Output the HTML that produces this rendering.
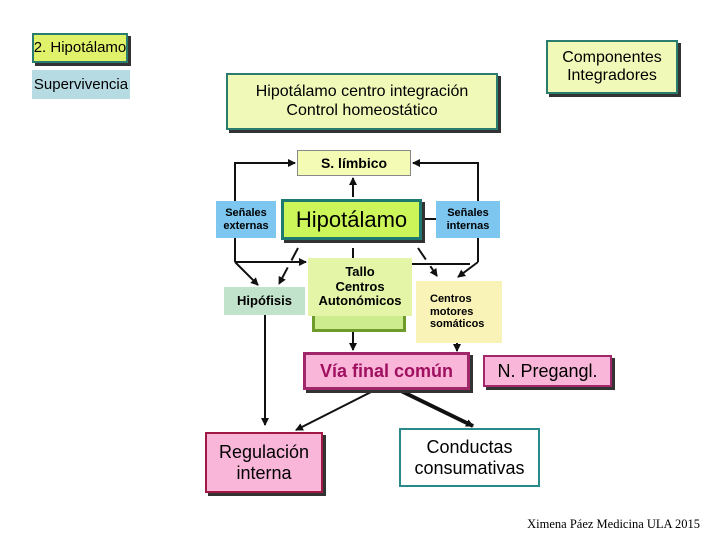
<!DOCTYPE html>
<html><head><meta charset="utf-8"><style>
body{margin:0;width:720px;height:540px;background:#fff;position:relative;overflow:hidden;font-family:"Liberation Sans","DejaVu Sans",sans-serif;}
.b{position:absolute;box-sizing:border-box;display:flex;align-items:center;justify-content:center;text-align:center;line-height:1.15;color:#000;white-space:nowrap;}
.sh{box-shadow:3px 3px 0 #333;}
svg{position:absolute;left:0;top:0;}
</style></head><body>
<svg width="720" height="540">
<defs><marker id="a" markerWidth="8" markerHeight="8" refX="7" refY="4" orient="auto" markerUnits="userSpaceOnUse"><path d="M0,0 L8,4 L0,8 z" fill="#111"/></marker></defs>
<g stroke="#111" stroke-width="2" fill="none">
<path d="M235,262 V163 H295" marker-end="url(#a)"/>
<path d="M478,262 V163 H413" marker-end="url(#a)"/>
<path d="M235,262 H306" marker-end="url(#a)"/>
<path d="M235,262 L258,285" marker-end="url(#a)"/>
<path d="M412,264 H470"/>
<path d="M478,262 L458,277" marker-end="url(#a)"/>
<path d="M298,248 L279,284" marker-end="url(#a)" stroke-dasharray="14,8"/>
<path d="M418,248 L437,276" marker-end="url(#a)" stroke-dasharray="14,8"/>
<path d="M353,248 V258"/>
<path d="M353,197 V178" marker-end="url(#a)"/>
<path d="M422,219 H436"/>
<path d="M265,315 V425" marker-end="url(#a)"/>
<path d="M353,332 V350" marker-end="url(#a)"/>
<path d="M457,343 V351" marker-end="url(#a)"/>
<path d="M375,390 L296,430" marker-end="url(#a)"/>
<path d="M397,389 L473,426" stroke-width="4" marker-end="url(#a)"/>
</g></svg>
<div class="b sh" style="left:32px;top:33px;width:96px;height:30px;background:#e0f26a;border:2px solid #2a7d6e;font-size:15px;">2. Hipotálamo</div>
<div class="b" style="left:32px;top:70px;width:98px;height:29px;background:#b7dbe2;font-size:15px;">Supervivencia</div>
<div class="b sh" style="left:226px;top:73px;width:272px;height:57px;background:#f0f9b8;border:2px solid #2a7d6e;font-size:16px;">Hipotálamo centro integración<br>Control homeostático</div>
<div class="b sh" style="left:546px;top:40px;width:132px;height:54px;background:#f0f9b8;border:2px solid #2a7d6e;font-size:16px;">Componentes<br>Integradores</div>
<div class="b" style="left:297px;top:150px;width:114px;height:26px;background:#f4fbb4;border:1px solid #888;font-size:14px;font-weight:bold;">S. límbico</div>
<div class="b" style="left:216px;top:201px;width:60px;height:37px;background:#7cc6f0;font-size:11px;font-weight:bold;">Señales<br>externas</div>
<div class="b sh" style="left:281px;top:199px;width:141px;height:41px;background:#ccf55a;border:3px solid #1e7a70;font-size:22px;">Hipotálamo</div>
<div class="b" style="left:436px;top:201px;width:64px;height:37px;background:#7cc6f0;font-size:11px;font-weight:bold;">Señales<br>internas</div>
<div class="b" style="left:224px;top:287px;width:81px;height:28px;background:#c1e3cb;font-size:13px;font-weight:bold;">Hipófisis</div>
<div class="b" style="left:312px;top:300px;width:94px;height:32px;background:#cdec8e;border:3px solid #6f9a2c;"></div>
<div class="b" style="left:308px;top:258px;width:104px;height:58px;background:#e4f5a8;font-size:13px;font-weight:bold;">Tallo<br>Centros<br>Autonómicos</div>
<div class="b" style="left:416px;top:281px;width:86px;height:62px;background:#faf3b8;font-size:11px;font-weight:bold;text-align:left;justify-content:flex-start;padding-left:14px;">Centros<br>motores<br>somáticos</div>
<div class="b sh" style="left:303px;top:352px;width:167px;height:38px;background:#f9b6d9;border:3px solid #a0286a;font-size:18px;font-weight:bold;color:#a01060;">Vía final común</div>
<div class="b sh" style="left:483px;top:355px;width:129px;height:32px;background:#f9b6d9;border:2px solid #a0286a;font-size:18px;">N. Pregangl.</div>
<div class="b sh" style="left:205px;top:432px;width:118px;height:61px;background:#f9b6d9;border:2px solid #a01844;font-size:18px;">Regulación<br>interna</div>
<div class="b" style="left:399px;top:428px;width:141px;height:59px;background:#fff;border:2px solid #2a8a8a;font-size:18px;">Conductas<br>consumativas</div>
<div style="position:absolute;left:508px;top:517px;width:192px;text-align:right;font-family:'Liberation Serif',serif;font-size:12.5px;white-space:nowrap;">Ximena Páez Medicina ULA 2015</div>
</body></html>
